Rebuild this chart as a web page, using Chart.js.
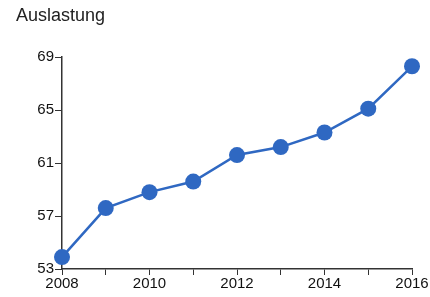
<!DOCTYPE html>
<html>
<head>
<meta charset="utf-8">
<script src="https://cdn.jsdelivr.net/npm/chart.js@4"></script>
<style>
  html, body { margin: 0; padding: 0; background: #fff; }
  #wrap { position: relative; width: 430px; height: 297px; }
  #title { position: absolute; left: 16px; top: 5px; font: 18px "Liberation Sans", Arial, sans-serif; color: #222; }
</style>
</head>
<body>
<div id="wrap">
  <div id="title">Auslastung</div>
  <canvas id="chart" width="430" height="297"></canvas>
</div>
<script>
// Data
const years = [2008, 2009, 2010, 2011, 2012, 2013, 2014, 2015, 2016];
const auslastung = [53.9, 57.6, 58.8, 59.6, 61.6, 62.2, 63.3, 65.1, 68.3];
const yTicks = [53, 57, 61, 65, 69];

const axisColor = "#333";
const tickFont = { family: "'Liberation Sans', Arial, sans-serif", size: 15 };

new Chart(document.getElementById("chart"), {
    type: "line",
    data: {
        datasets: [
            {
                label: "Auslastung",
                data: years.map((y, i) => ({ x: y, y: auslastung[i] })),
                borderColor: "#2f68c2",
                backgroundColor: "#2f68c2",
                borderWidth: 2.5,
                pointRadius: 8,
                pointHoverRadius: 8,
                pointBorderWidth: 0,
                tension: 0,
                clip: false,
            },
        ],
    },
    options: {
        responsive: false,
        animation: false,
        layout: { padding: { top: 57, right: 18, left: 0, bottom: 0 } },
        plugins: { legend: { display: false }, tooltip: { enabled: false } },
        scales: {
            x: {
                type: "linear",
                min: years[0],
                max: years[years.length - 1],
                afterBuildTicks: (scale) => {
                    scale.ticks = years.map((v) => ({ value: v }));
                },
                afterFit: (scale) => { scale.height = 28; },
                grid: { drawOnChartArea: false, drawTicks: true, tickLength: 6, color: axisColor },
                border: { color: axisColor, width: 1.5 },
                ticks: {
                    color: "#111",
                    font: tickFont,
                    padding: 0,
                    maxRotation: 0,
                    autoSkip: false,
                    callback: (v) => (v % 2 === 0 ? String(v) : ""),
                },
            },
            y: {
                min: yTicks[0],
                max: yTicks[yTicks.length - 1],
                afterBuildTicks: (scale) => {
                    scale.ticks = yTicks.map((v) => ({ value: v }));
                },
                afterFit: (scale) => { scale.width = 62; },
                grid: { drawOnChartArea: false, drawTicks: true, tickLength: 7, color: axisColor },
                border: { color: axisColor, width: 1.5 },
                ticks: { color: "#111", font: tickFont, padding: 1 },
            },
        },
    },
});
</script>
</body>
</html>
